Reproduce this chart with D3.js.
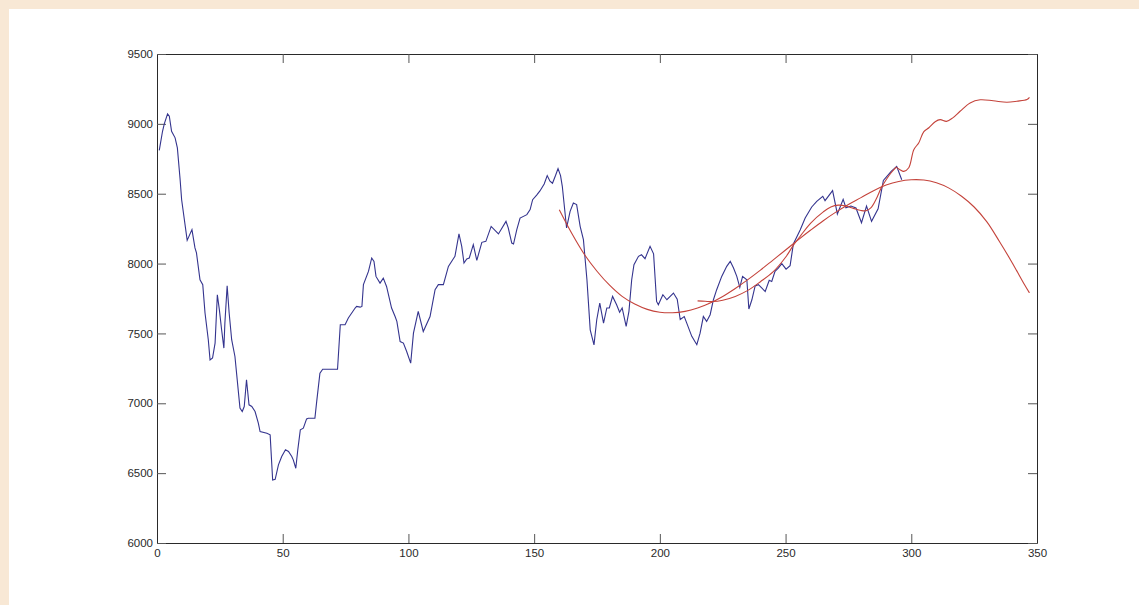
<html>
<head>
<script src="https://d3js.org/d3.v7.min.js"></script>
<style>
  body { margin: 0; background: #f8e8d5; }
  .tick text { font-family: "Liberation Sans", Arial, sans-serif; font-size: 11.5px; fill: #2a2a2a; }
</style>
</head>
<body>
<script>

// closing values (x = trading day, v = index level)
var closes = [[0.9,8810],[2.2,8947],[2.9,9000],[4.2,9071],[4.9,9055],[5.8,8947],[7.2,8900],[8.1,8828],[9.2,8600],[9.8,8457],
  [12.0,8166],[13.9,8243],[15.1,8112],[15.7,8076],[17.1,7884],[18.2,7849],[19.1,7646],[20.4,7455],[21.1,7311],[22.1,7325],
  [23.1,7431],[24.0,7777],[24.8,7670],[25.7,7526],[26.6,7395],[27.0,7574],[27.9,7841],[28.7,7646],[29.7,7455],[31.0,7335],
  [33.0,6965],[33.9,6941],[34.7,6977],[35.6,7168],[36.6,6989],[37.7,6977],[39.0,6941],[40.3,6858],[41.0,6797],[43.7,6786],
  [45.0,6774],[46.0,6451],[47.0,6456],[48.3,6559],[49.6,6619],[51.1,6667],[52.3,6655],[53.6,6619],[54.2,6595],[55.2,6535],
  [56.0,6667],[57.0,6810],[58.2,6822],[59.5,6888],[60.2,6893],[62.8,6893],[63.5,7010],[64.8,7216],[65.9,7244],[71.8,7244],
  [72.9,7562],[74.8,7562],[76.1,7610],[78.8,7682],[79.4,7693],[80.8,7688],[81.5,7693],[82.1,7849],[84.1,7944],[85.4,8040],
  [86.3,8016],[87.1,7908],[88.7,7860],[90.0,7896],[91.3,7836],[93.3,7682],[94.7,7621],[95.4,7586],[96.7,7442],[98.0,7431],
  [99.3,7371],[100.9,7287],[102.0,7502],[103.9,7658],[105.9,7514],[108.6,7621],[110.6,7813],[111.9,7849],[113.9,7849],[115.9,7980],
  [117.8,8033],[118.5,8052],[120.1,8212],[121.2,8123],[122.1,8004],[123.2,8033],[124.2,8040],[125.8,8135],[127.2,8023],[129.2,8152],
  [130.8,8159],[132.9,8266],[135.8,8212],[138.8,8302],[139.7,8255],[141.1,8147],[141.8,8140],[143.1,8243],[144.4,8326],[147.1,8350],
  [148.4,8386],[149.4,8457],[151.0,8490],[152.3,8520],[154.0,8570],[155.2,8630],[156.3,8590],[157.3,8575],[158.5,8630],[159.5,8680],
  [160.5,8630],[161.2,8553],[162.9,8255],[164.3,8374],[165.6,8434],[166.9,8422],[168.3,8267],[169.6,8171],[171.0,7884],[172.3,7526],
  [173.8,7418],[174.9,7598],[176.1,7717],[177.6,7574],[178.9,7682],[179.9,7682],[181.2,7765],[182.8,7705],[184.0,7652],[185.0,7682],
  [186.6,7550],[187.7,7658],[188.8,7884],[189.7,7992],[191.5,8052],[192.7,8063],[194.1,8035],[196.1,8123],[197.5,8070],[198.7,7729],
  [199.4,7705],[201.2,7777],[202.8,7741],[205.4,7789],[206.9,7745],[208.1,7600],[209.7,7621],[210.7,7574],[212.7,7479],[214.7,7419],
  [216.0,7502],[217.3,7621],[218.6,7586],[220.0,7634],[221.3,7741],[222.6,7813],[224.6,7908],[226.6,7980],[228.0,8016],[229.3,7968],
  [230.6,7908],[231.8,7830],[232.9,7908],[234.6,7884],[235.4,7675],[236.6,7741],[237.9,7840],[239.2,7849],[240.6,7825],[241.9,7800],
  [243.5,7880],[244.5,7872],[245.8,7944],[247.1,7968],[248.5,8000],[250.2,7960],[251.8,7985],[253.1,8140],[255.8,8240],[257.8,8326],
  [260.4,8405],[262.4,8445],[264.8,8481],[265.7,8450],[268.7,8522],[270.6,8355],[272.9,8460],[274.0,8400],[276.0,8412],[278.0,8398],
  [280.2,8292],[282.2,8412],[284.2,8302],[286.8,8392],[288.9,8595],[290.9,8636],[292.0,8660],[294.2,8696],[296.2,8600]];

// polynomial fit
var polyFit = [[160,8385],[165,8215],[170,8065],[175,7945],[180,7845],[185,7765],[190,7710],[195,7672],[200,7652],[205,7648],
  [210,7658],[215,7682],[220,7718],[225,7765],[230,7822],[235,7885],[240,7953],[245,8025],[250,8097],[255,8170],
  [260,8240],[265,8307],[270,8368],[275,8423],[280,8472],[285,8522],[290,8562],[295,8588],[300,8600],[305,8598],
  [310,8578],[315,8540],[320,8482],[325,8405],[330,8300],[335,8160],[340,8010],[345,7850],[347,7790]];

// smoothed curve
var smooth = [[215,7733],[218,7730],[221,7728],[225,7738],[230,7765],[235,7808],[240,7870],[245,7940],[250,8045],[253,8128],
  [256,8200],[260,8290],[265,8370],[268,8405],[271,8418],[274,8412],[277,8395],[280,8380],[282,8378],[284,8400],
  [286,8460],[288,8540],[290,8600],[292,8650],[294,8690]];

// forecast
var forecast = [[294,8690],[295.5,8672],[297,8660],[299,8686],[301,8815],[303,8865],[305,8945],[307,8972],[309.5,9015],[311.5,9030],
  [314,9018],[316.5,9043],[319.4,9090],[323.4,9150],[327.4,9172],[332.6,9165],[338,9155],[342,9162],[346,9174],[347,9190]];

var xTicks = [0, 50, 100, 150, 200, 250, 300, 350];
var yTicks = [6000, 6500, 7000, 7500, 8000, 8500, 9000, 9500];

var svg = d3.select("body").append("svg")
            .attr("width", 1139)
            .attr("height", 605)
            .style("display", "block");

svg.append("rect").attr("width", 1139).attr("height", 605).attr("fill", "#f8e8d5");
svg.append("rect").attr("x", 9).attr("y", 9).attr("width", 1130).attr("height", 596).attr("fill", "#fff");

var x = d3.scaleLinear()
          .domain([0, 350])
          .range([157, 1037]);
var y = d3.scaleLinear()
          .domain([6000, 9500])
          .range([543, 54]);

var fmt = d3.format("d");

function styleAxis(g) {
  g.selectAll("path").attr("stroke", "#2a2a2a");
  g.selectAll("line").attr("stroke", "#555");
}

svg.append("g")
   .attr("transform", "translate(0,543)")
   .call(d3.axisBottom(x).tickValues(xTicks).tickFormat(fmt).tickSizeInner(-9).tickSizeOuter(0).tickPadding(6))
   .call(styleAxis);

svg.append("g")
   .attr("transform", "translate(0,54)")
   .call(d3.axisTop(x).tickValues(xTicks).tickSizeInner(-9).tickSizeOuter(0).tickFormat(""))
   .call(styleAxis);

svg.append("g")
   .attr("transform", "translate(157,0)")
   .call(d3.axisLeft(y).tickValues(yTicks).tickFormat(fmt).tickSizeInner(-9).tickSizeOuter(0).tickPadding(4))
   .call(styleAxis);

svg.append("g")
   .attr("transform", "translate(1037,0)")
   .call(d3.axisRight(y).tickValues(yTicks).tickSizeInner(-9).tickSizeOuter(0).tickFormat(""))
   .call(styleAxis);

var line = d3.line()
             .x(function(d) { return x(d[0]); })
             .y(function(d) { return y(d[1]); });

var smoothLine = d3.line()
             .x(function(d) { return x(d[0]); })
             .y(function(d) { return y(d[1]); })
             .curve(d3.curveCatmullRom);

svg.append("path").datum(closes)
   .attr("d", line)
   .attr("fill", "none").attr("stroke", "#34348e").attr("stroke-width", 1.1);

[polyFit, smooth, forecast].forEach(function(s) {
  svg.append("path").datum(s)
     .attr("d", smoothLine)
     .attr("fill", "none").attr("stroke", "#c4433b").attr("stroke-width", 1.1);
});

</script>
</body>
</html>
